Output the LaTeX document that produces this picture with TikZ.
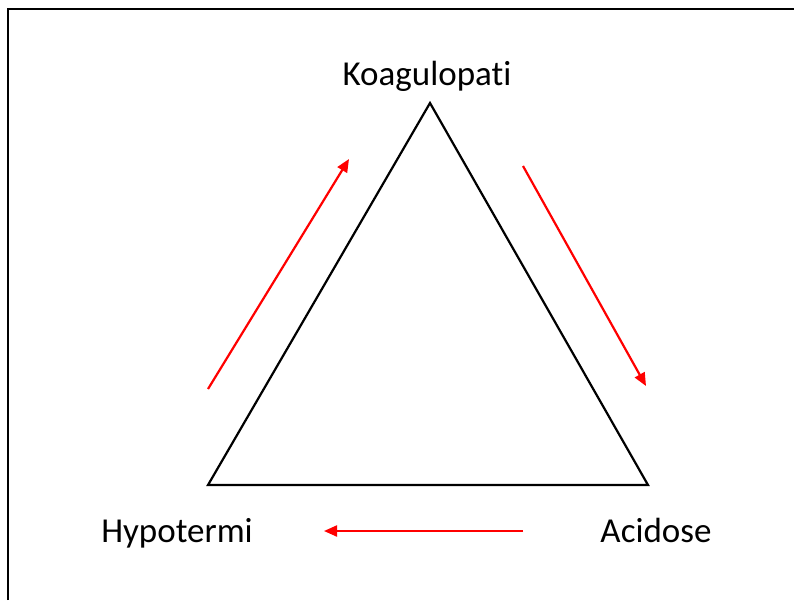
\documentclass[tikz,border=0pt]{standalone}
\usepackage{fontspec}
\setmainfont{Carlito}[Ligatures=NoCommon]
\usetikzlibrary{arrows.meta,positioning}
\tikzset{
  lbl/.style={font=\fontsize{35}{42}\selectfont,anchor=base,inner sep=0pt},
  edge/.style={line width=2.2pt,line join=miter},
  arr/.style={-{Triangle[length=13pt,width=11pt]},red,line width=2.2pt},
}

\begin{document}
\begin{tikzpicture}[x=1pt,y=-1pt]
 \useasboundingbox (0,0) rectangle (794,600);
 \draw[line width=2.4pt] (8,600) -- (8,9) -- (794,9);
 % triangle corners
 \coordinate (top) at (430,103);
 \coordinate (bl) at (208,485);
 \coordinate (br) at (648,485);
 \draw[edge] (top) -- (br) -- (bl) -- cycle;
 \node[lbl] (koag) at (427,85) {Koagulopati};
 \node[lbl] (hypo) at (177,542) {Hypotermi};
 \node[lbl] (acid) at (656,542) {Acidose};
 % cycle arrows
 \coordinate (a1s) at (208,389); \coordinate (a1e) at (349,159);
 \coordinate (a2s) at (523,166); \coordinate (a2e) at (646,386);
 \coordinate (a3s) at (523,531); \coordinate (a3e) at (324,531);
 \draw[arr] (a1s) -- (a1e);
 \draw[arr] (a2s) -- (a2e);
 \draw[arr] (a3s) -- (a3e);
\end{tikzpicture}
\end{document}
